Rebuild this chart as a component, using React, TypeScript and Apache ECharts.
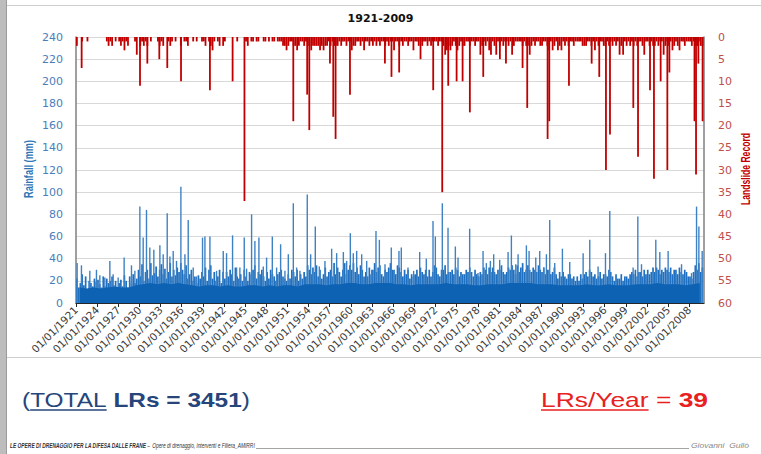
import React, { useEffect, useRef } from "react";
import * as echarts from "echarts";

// ---------- data ----------
const FIRST_YEAR = 1921;
const X_MIN = 1921;
const X_MAX = 2010.1;
const chartTitle = "1921-2009";
const xTickYears = [
  1921, 1924, 1927, 1930, 1933, 1936, 1939, 1942, 1945, 1948, 1951, 1954, 1957, 1960, 1963,
  1966, 1969, 1972, 1975, 1978, 1981, 1984, 1987, 1990, 1993, 1996, 1999, 2002, 2005, 2008,
];
const rainfallAxisName = "Rainfall (mm)";
const landslideAxisName = "Landslide Record";
const rainfallAxisRange = { min: 0, max: 240, interval: 20 };
const landslideAxisRange = { min: 0, max: 60, interval: 5 };

// dense low rainfall level, one value per year (mm)
const rainfallBaseYearly = [
  14, 13, 14, 13, 14, 15, 14, 14, 16,
  17, 18, 17, 18, 17, 18, 17, 16, 15, 16,
  16, 15, 16, 15, 15, 16, 16, 15, 16, 15,
  16, 16, 15, 17, 17, 17, 16, 17, 17, 18,
  18, 17, 17, 18, 18, 18, 17, 17, 16, 17,
  17, 17, 17, 18, 17, 17, 17, 16, 16, 17,
  17, 17, 18, 18, 18, 18, 17, 17, 17, 16,
  16, 16, 16, 17, 16, 16, 17, 16, 16, 16,
  17, 17, 17, 18, 17, 17, 17, 16, 17, 18,
];

// typical daily peaks, four per year (mm)
const rainfallQuarterly = [
  22, 14, 18, 26, 16, 24, 12, 20, 18, 15, 22, 19, 21, 17, 14, 24, 15, 22, 18, 20,
  24, 16, 20, 14, 18, 21, 15, 25, 20, 14, 24, 18, 26, 18, 22, 30,
  24, 35, 20, 28, 30, 22, 36, 25, 27, 33, 24, 30, 35, 26, 31, 22, 28, 36, 24, 30,
  25, 32, 28, 36, 30, 26, 34, 22, 26, 30, 20, 24, 18, 25, 22, 28, 24, 32, 20, 30,
  34, 22, 28, 20, 24, 30, 18, 28, 22, 28, 24, 30, 26, 20, 32, 24, 22, 26, 20, 30,
  24, 20, 28, 26, 30, 34, 22, 28, 26, 30, 24, 20, 28, 22, 30, 26, 24, 20, 26, 28,
  30, 24, 22, 20, 26, 22, 30, 28, 24, 30, 20, 26, 22, 28, 24, 34, 30, 26, 32, 28,
  34, 24, 30, 22, 26, 32, 24, 28, 30, 24, 36, 26, 32, 28, 24, 30, 36, 26, 30, 34,
  30, 36, 28, 32, 26, 34, 30, 24, 28, 24, 32, 26, 30, 36, 28, 32, 34, 26, 24, 30,
  28, 32, 36, 30, 30, 26, 34, 32, 28, 24, 30, 26, 30, 22, 26, 24, 26, 30, 24, 32,
  28, 26, 30, 24, 30, 24, 28, 34, 32, 26, 24, 30, 30, 34, 26, 28, 28, 30, 26, 32,
  30, 24, 28, 26, 26, 30, 28, 32, 28, 24, 30, 26, 24, 28, 26, 32, 30, 26, 32, 28,
  32, 28, 26, 30, 30, 34, 28, 26, 28, 32, 30, 34, 30, 26, 34, 28, 32, 36, 28, 30,
  34, 30, 28, 32, 30, 28, 34, 30, 28, 32, 26, 30, 30, 26, 28, 32, 26, 22, 28, 24,
  28, 24, 22, 26, 26, 22, 24, 20, 24, 20, 26, 22, 26, 28, 24, 30, 28, 24, 26, 22,
  24, 28, 22, 26, 26, 24, 30, 28, 24, 20, 26, 22, 22, 26, 20, 24, 24, 22, 26, 28,
  26, 30, 24, 28, 28, 24, 30, 26, 30, 26, 28, 32, 28, 32, 30, 26, 30, 28, 32, 30,
  28, 32, 26, 30, 30, 26, 32, 28, 26, 30, 28, 24, 24, 22, 28, 34, 30, 36, 28, 32,
];

// isolated high daily rainfall: [year, mm]
const rainfallPeaks: [number, number][] = [
  [1921.19, 36], [1921.8, 34], [1922.99, 29], [1923.93, 30], [1924.41, 25], [1925.12, 23],
  [1925.83, 38], [1926.3, 26], [1927.01, 23], [1927.86, 41], [1928.9, 34], [1929.38, 29],
  [1930.09, 87], [1930.56, 59], [1931.03, 84], [1931.5, 50], [1932.07, 48], [1932.93, 52],
  [1933.4, 44], [1933.97, 81], [1934.35, 42], [1934.82, 47], [1935.29, 38], [1935.91, 105],
  [1936.48, 44], [1936.95, 75], [1937.66, 32], [1938.13, 24], [1938.98, 59], [1939.32, 60],
  [1940.03, 60], [1940.97, 29], [1941.92, 47], [1942.39, 45], [1943.24, 61], [1943.81, 32],
  [1944.28, 32], [1944.9, 59], [1945.23, 31], [1945.94, 80], [1946.41, 56], [1946.98, 59],
  [1947.6, 33], [1948.07, 41], [1948.88, 60], [1949.49, 32], [1950.06, 53], [1950.67, 29],
  [1951.15, 44], [1951.86, 90], [1952.33, 32], [1952.8, 29], [1953.84, 98], [1954.32, 44],
  [1954.98, 69], [1955.55, 33], [1956.35, 38], [1957.3, 49], [1958.01, 45], [1958.96, 46],
  [1959.43, 38], [1959.95, 63], [1960.37, 45], [1960.85, 47], [1961.56, 44], [1962.27, 38],
  [1962.98, 30], [1963.59, 65], [1964.07, 57], [1964.87, 35], [1965.76, 50], [1966.85, 47],
  [1967.18, 50], [1968.13, 32], [1968.93, 29], [1969.79, 46], [1970.73, 40], [1971.68, 74],
  [1972.01, 60], [1973.0, 90], [1973.81, 68], [1974.85, 51], [1975.23, 41], [1976.88, 67],
  [1978.07, 27], [1978.78, 47], [1979.25, 36], [1979.82, 38], [1980.29, 44], [1981.14, 39],
  [1982.33, 46], [1982.8, 61], [1983.42, 35], [1983.75, 44], [1984.93, 52], [1985.31, 47],
  [1986.26, 41], [1986.82, 47], [1987.39, 32], [1987.77, 44], [1988.24, 75], [1988.95, 36],
  [1990.04, 49], [1991.08, 37], [1992.98, 45], [1993.92, 57], [1995.1, 33], [1996.15, 45],
  [1996.76, 83], [2000.07, 32], [2000.74, 78], [2001.26, 35], [2003.29, 57], [2003.86, 46],
  [2005.04, 47], [2006.94, 35], [2008.36, 27], [2009.07, 87], [2009.4, 69], [2009.87, 47],
];

// small landslide records, four per year
const landslideQuarterly = [
  2, 0, 0, 1, 0, 0, 1, 0, 0, 0, 0, 0, 0, 0, 0, 0, 0, 1, 2, 1,
  2, 0, 1, 0, 1, 2, 1, 3, 1, 2, 0, 0, 0, 1, 4, 0,
  2, 1, 2, 1, 2, 0, 1, 0, 0, 0, 1, 2, 1, 2, 0, 0, 1, 2, 1, 0,
  1, 0, 0, 2, 0, 1, 1, 2, 0, 0, 1, 0, 1, 0, 0, 1, 1, 2, 0, 1,
  2, 3, 1, 0, 1, 2, 0, 2, 1, 0, 0, 0, 0, 0, 0, 1, 0, 0, 0, 0,
  1, 2, 0, 1, 1, 0, 1, 1, 0, 0, 1, 1, 0, 1, 0, 1, 1, 0, 1, 1,
  1, 2, 2, 3, 2, 1, 1, 2, 2, 3, 2, 1, 1, 2, 1, 2, 2, 3, 2, 2,
  2, 2, 3, 2, 3, 2, 2, 1, 2, 1, 2, 2, 2, 1, 2, 1, 1, 2, 1, 1,
  3, 2, 2, 1, 1, 2, 1, 3, 1, 1, 2, 1, 2, 1, 2, 1, 2, 1, 1, 2,
  1, 2, 1, 1, 3, 1, 1, 2, 1, 2, 1, 1, 2, 1, 1, 3, 1, 1, 2, 1,
  2, 1, 1, 2, 1, 2, 1, 1, 1, 2, 1, 1, 2, 4, 3, 2, 3, 2, 1, 2,
  3, 2, 1, 2, 2, 1, 1, 2, 1, 1, 2, 1, 1, 4, 2, 1, 2, 1, 3, 4,
  1, 2, 4, 1, 2, 1, 2, 1, 1, 2, 1, 4, 2, 1, 1, 1, 1, 2, 1, 2,
  2, 4, 2, 1, 2, 1, 1, 2, 2, 1, 1, 2, 3, 1, 3, 2, 1, 3, 2, 3,
  1, 2, 1, 2, 1, 1, 2, 1, 1, 1, 1, 2, 2, 2, 1, 1, 2, 1, 3, 1,
  2, 1, 1, 2, 2, 1, 2, 1, 2, 1, 2, 1, 4, 2, 4, 1, 2, 1, 2, 1,
  2, 1, 2, 1, 1, 2, 4, 1, 1, 2, 1, 2, 2, 1, 2, 1, 1, 4, 2, 1,
  2, 1, 3, 2, 1, 2, 3, 1, 1, 2, 1, 1, 1, 2, 1, 2, 2, 1, 2, 2,
];

// larger landslide-record days: [year, records]
const landslideMajor: [number, number][] = [
  [1921.8, 7], [1930.08, 11], [1931.12, 6], [1932.82, 5], [1933.95, 7], [1935.9, 10],
  [1940.0, 12], [1943.22, 10], [1944.9, 37], [1951.83, 19], [1953.8, 13], [1954.1, 21],
  [1957.03, 6], [1957.5, 18], [1957.83, 23], [1959.87, 13], [1964.83, 6], [1965.76, 9],
  [1966.85, 8], [1969.88, 5], [1971.68, 12], [1972.96, 35], [1973.81, 11], [1975.0, 10],
  [1975.85, 10], [1976.88, 17], [1978.78, 9], [1981.14, 5], [1982.0, 6], [1984.36, 7],
  [1985.02, 16], [1987.91, 23], [1988.15, 19], [1990.94, 11], [1994.16, 6], [1995.24, 9],
  [1996.19, 30], [1996.76, 22], [2000.07, 16], [2000.74, 27], [2002.44, 12], [2003.0, 32],
  [2003.95, 10], [2004.9, 30], [2005.19, 8], [2008.75, 19], [2008.97, 31], [2009.3, 6],
  [2009.9, 19],
];

const totalText = { open: "(", word: "TOTAL", value: " LRs = 3451", close: ")" };
const perYearText = { label: "LRs/Year", eq: " = ", value: "39" };
const footerBold = "LE OPERE DI DRENAGGIO PER LA DIFESA DALLE FRANE \u2013 ";
const footerNormal = "Opere di drenaggio, interventi e Filiera_AMIRRI";
const footerAuthor = "Giovanni  Gull\u00f2";

// ---------- helpers ----------
const SANS = '"Liberation Sans", Arial, sans-serif';
const DEJAVU = '"DejaVu Sans", sans-serif';

function measure(text: string, size: number, weight: string, style: string, family: string) {
  const ctx = document.createElement("canvas").getContext("2d");
  if (!ctx) return text.length * size * 0.55;
  ctx.font = `${style} ${weight} ${size}px ${family}`;
  return ctx.measureText(text).width;
}

type Seg = { text: string; bold?: boolean; italic?: boolean; underline?: boolean; color: string };

function buildRun(segs: Seg[], x0: number, y: number, targetW: number, size: number, family: string, uOff: number, uW: number) {
  const widths = segs.map((s) => measure(s.text, size, s.bold ? "bold" : "normal", s.italic ? "italic" : "normal", family));
  const total = widths.reduce((a, b) => a + b, 0);
  const k = targetW / total;
  let x = x0;
  const els: any[] = [];
  segs.forEach((s, i) => {
    const w = widths[i] * k;
    els.push({
      type: "text",
      x,
      y,
      scaleX: k,
      silent: true,
      style: {
        text: s.text,
        fontSize: size,
        fontWeight: s.bold ? "bold" : "normal",
        fontStyle: s.italic ? "italic" : "normal",
        fontFamily: family,
        fill: s.color,
        textAlign: "left",
        textVerticalAlign: "middle",
        verticalAlign: "middle",
      },
    });
    if (s.underline) {
      els.push({
        type: "line",
        silent: true,
        shape: { x1: x, y1: y + uOff, x2: x + w, y2: y + uOff },
        style: { stroke: s.color, lineWidth: uW },
      });
    }
    x += w;
  });
  return { els, end: x };
}

function rotatedName(text: string, cx: number, cy: number, length: number, color: string) {
  const size = 12;
  const w = measure(text, size, "bold", "normal", SANS);
  return {
    type: "text",
    x: cx,
    y: cy,
    rotation: Math.PI / 2,
    scaleX: length / w,
    silent: true,
    style: {
      text,
      fontSize: size,
      fontWeight: "bold",
      fontFamily: SANS,
      fill: color,
      textAlign: "center",
      textVerticalAlign: "middle",
      verticalAlign: "middle",
    },
  };
}

export default function App() {
  const ref = useRef<HTMLDivElement>(null);

  useEffect(() => {
    document.body.style.margin = "0";
    document.body.style.background = "#ffffff";
    if (!ref.current) return;
    const chart = echarts.init(ref.current, undefined, { renderer: "svg" });

    const quarterX = (i: number) => FIRST_YEAR + i * 0.25 + 0.125;
    const baseData = rainfallBaseYearly.map((v, i) => [FIRST_YEAR + i + 0.5, v]);
    const rainQ = rainfallQuarterly.map((v, i) => [quarterX(i), v]);
    const landQ = landslideQuarterly.map((v, i) => [quarterX(i), v]);

    const navy = "#26457a";
    const red = "#e8201e";
    const left = buildRun(
      [
        { text: totalText.open, color: navy },
        { text: totalText.word, color: navy, underline: true },
        { text: totalText.value, color: navy, bold: true },
        { text: totalText.close, color: navy },
      ],
      22, 400, 228, 21, SANS, 10, 1.4
    );
    const right = buildRun(
      [
        { text: perYearText.label, color: red, underline: true },
        { text: perYearText.eq, color: red },
        { text: perYearText.value, color: red, bold: true },
      ],
      541, 400, 167, 21, SANS, 10, 1.4
    );
    const footer = buildRun(
      [
        { text: footerBold, color: "#333333", italic: true, bold: true },
        { text: footerNormal, color: "#333333", italic: true },
      ],
      10, 446, 245, 6.5, SANS, 0, 0
    );
    const author = buildRun([{ text: footerAuthor, color: "#8a8a8a", italic: true }], 691, 446, 58, 7, SANS, 0, 0);

    const graphic: any[] = [
      { type: "rect", silent: true, shape: { x: 0, y: 0, width: 6, height: 454 }, style: { fill: "#bdbdbd" } },
      { type: "line", silent: true, shape: { x1: 6.5, y1: 0, x2: 6.5, y2: 454 }, style: { stroke: "#9c9c9c", lineWidth: 1 } },
      { type: "line", silent: true, shape: { x1: 7, y1: 5.5, x2: 761, y2: 5.5 }, style: { stroke: "#cfcfcf", lineWidth: 1 } },
      { type: "line", silent: true, shape: { x1: 7, y1: 357.5, x2: 761, y2: 357.5 }, style: { stroke: "#cfcfcf", lineWidth: 1.2 } },
      {
        type: "text",
        x: 380.5,
        y: 18,
        silent: true,
        style: {
          text: chartTitle,
          fontSize: 11,
          fontWeight: "bold",
          fontFamily: DEJAVU,
          fill: "#111111",
          textAlign: "center",
          textVerticalAlign: "middle",
          verticalAlign: "middle",
        },
      },
      rotatedName(rainfallAxisName, 29, 169, 58, "#2e75b6"),
      rotatedName(landslideAxisName, 746, 169, 72, "#c00000"),
      ...left.els,
      ...right.els,
      ...footer.els,
      {
        type: "line",
        silent: true,
        shape: { x1: footer.end + 1, y1: 448.5, x2: 689, y2: 448.5 },
        style: { stroke: "#666666", lineWidth: 0.6 },
      },
      ...author.els,
    ];

    const option: any = {
      animation: false,
      backgroundColor: "#ffffff",
      grid: { left: 76, right: 57, top: 37, bottom: 151, containLabel: false },
      graphic,
      xAxis: {
        type: "value",
        min: X_MIN,
        max: X_MAX,
        interval: 3,
        axisLine: { show: true, onZero: false, lineStyle: { color: "#262626", width: 1 } },
        axisTick: { show: true, customValues: xTickYears, length: 4, lineStyle: { color: "#262626", width: 1 } },
        axisLabel: {
          customValues: xTickYears,
          rotate: 45,
          margin: 5,
          fontSize: 10.5,
          fontFamily: DEJAVU,
          color: "#3a3a3a",
          formatter: (v: number) => (xTickYears.indexOf(Math.round(v)) >= 0 && Math.abs(v - Math.round(v)) < 1e-6 ? `01/01/${Math.round(v)}` : ""),
        },
        splitLine: { show: false },
      },
      yAxis: [
        {
          type: "value",
          position: "left",
          ...rainfallAxisRange,
          axisLine: { show: true, lineStyle: { color: "#7f7f7f", width: 1.5 } },
          axisTick: { show: false },
          axisLabel: { color: "#4a7ebb", fontSize: 11, fontFamily: DEJAVU, margin: 13 },
          splitLine: { show: true, lineStyle: { color: "#d9d9d9", width: 1 } },
        },
        {
          type: "value",
          position: "right",
          inverse: true,
          ...landslideAxisRange,
          axisLine: { show: true, lineStyle: { color: "#7f7f7f", width: 1.5 } },
          axisTick: { show: false },
          axisLabel: { color: "#c0504d", fontSize: 11, fontFamily: DEJAVU, margin: 14 },
          splitLine: { show: false },
        },
      ],
      series: [
        {
          type: "line",
          yAxisIndex: 0,
          data: baseData,
          symbol: "none",
          silent: true,
          lineStyle: { width: 0, color: "#0e62b3" },
          areaStyle: { color: "#0e62b3", opacity: 1 },
        },
        {
          type: "bar",
          yAxisIndex: 0,
          data: rainQ,
          barWidth: 1.7,
          barGap: "-100%",
          silent: true,
          itemStyle: { color: "#1f70c0" },
        },
        {
          type: "bar",
          yAxisIndex: 0,
          data: rainfallPeaks,
          barWidth: 1.4,
          barGap: "-100%",
          silent: true,
          itemStyle: { color: "#3f82c4" },
        },
        {
          type: "bar",
          yAxisIndex: 1,
          data: landQ,
          barWidth: 1.8,
          barGap: "-100%",
          silent: true,
          itemStyle: { color: "#c00000" },
        },
        {
          type: "bar",
          yAxisIndex: 1,
          data: landslideMajor,
          barWidth: 1.8,
          barGap: "-100%",
          silent: true,
          itemStyle: { color: "#c00000" },
        },
      ],
    };

    chart.setOption(option);
    return () => chart.dispose();
  }, []);

  return <div ref={ref} style={{ width: 761, height: 454, position: "absolute", left: 0, top: 0 }} />;
}
